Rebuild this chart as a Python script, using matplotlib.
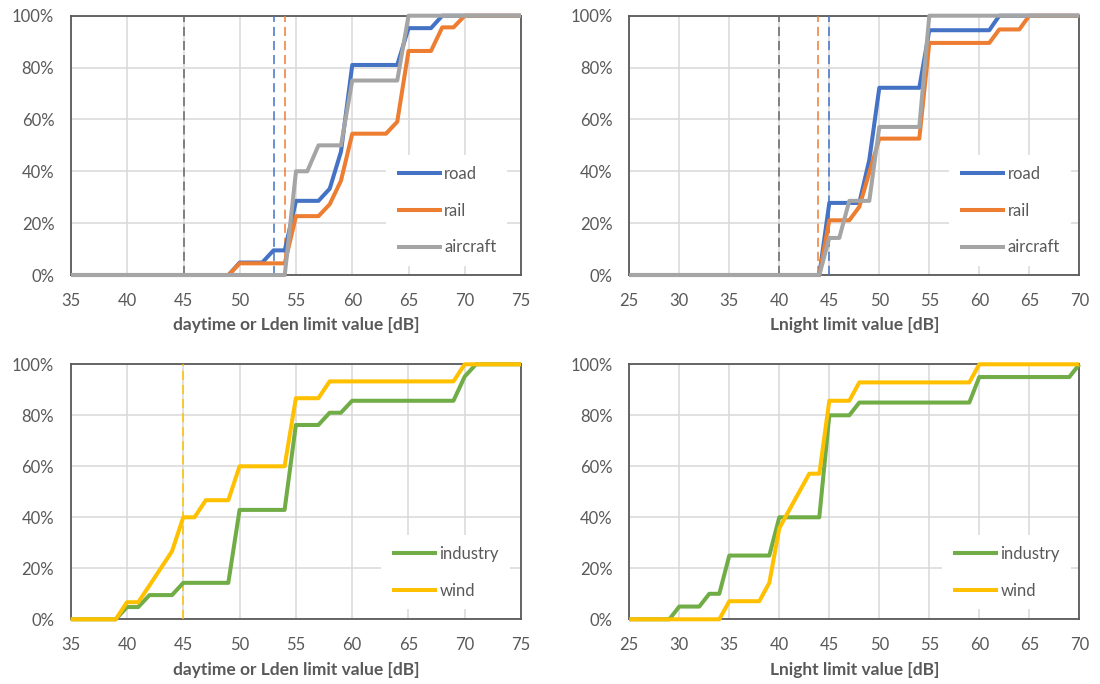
import matplotlib
matplotlib.use('Agg')
import matplotlib.pyplot as plt
from matplotlib.ticker import FuncFormatter, MultipleLocator

plt.rcParams['font.family'] = ['Lato', 'DejaVu Sans']

# ---------------- data ----------------
lden_x = list(range(35, 76))      # 35 .. 75 dB
lnight_x = list(range(25, 71))    # 25 .. 70 dB

road_lden = [0, 0, 0, 0, 0, 0, 0, 0, 0, 0,
             0, 0, 0, 0, 0, 4.8, 4.8, 4.8, 9.5, 9.5,
             28.6, 28.6, 28.6, 33.3, 47.6, 81.0, 81.0, 81.0, 81.0, 81.0,
             95.2, 95.2, 95.2, 100, 100, 100, 100, 100, 100, 100,
             100]
rail_lden = [0, 0, 0, 0, 0, 0, 0, 0, 0, 0,
             0, 0, 0, 0, 0, 4.5, 4.5, 4.5, 4.5, 4.5,
             22.7, 22.7, 22.7, 27.3, 36.4, 54.5, 54.5, 54.5, 54.5, 59.1,
             86.4, 86.4, 86.4, 95.5, 95.5, 100, 100, 100, 100, 100,
             100]
aircraft_lden = [0, 0, 0, 0, 0, 0, 0, 0, 0, 0,
                 0, 0, 0, 0, 0, 0, 0, 0, 0, 0,
                 40, 40, 50, 50, 50, 75, 75, 75, 75, 75,
                 100, 100, 100, 100, 100, 100, 100, 100, 100, 100,
                 100]
industry_lden = [0, 0, 0, 0, 0, 4.8, 4.8, 9.5, 9.5, 9.5,
                 14.3, 14.3, 14.3, 14.3, 14.3, 42.9, 42.9, 42.9, 42.9, 42.9,
                 76.2, 76.2, 76.2, 81.0, 81.0, 85.7, 85.7, 85.7, 85.7, 85.7,
                 85.7, 85.7, 85.7, 85.7, 85.7, 95.2, 100, 100, 100, 100,
                 100]
wind_lden = [0, 0, 0, 0, 0, 6.7, 6.7, 13.3, 20.0, 26.7,
             40.0, 40.0, 46.7, 46.7, 46.7, 60.0, 60.0, 60.0, 60.0, 60.0,
             86.7, 86.7, 86.7, 93.3, 93.3, 93.3, 93.3, 93.3, 93.3, 93.3,
             93.3, 93.3, 93.3, 93.3, 93.3, 100, 100, 100, 100, 100,
             100]

road_lnight = [0, 0, 0, 0, 0, 0, 0, 0, 0, 0,
               0, 0, 0, 0, 0, 0, 0, 0, 0, 0,
               27.8, 27.8, 27.8, 27.8, 44.4, 72.2, 72.2, 72.2, 72.2, 72.2,
               94.4, 94.4, 94.4, 94.4, 94.4, 94.4, 94.4, 100, 100, 100,
               100, 100, 100, 100, 100, 100]
rail_lnight = [0, 0, 0, 0, 0, 0, 0, 0, 0, 0,
               0, 0, 0, 0, 0, 0, 0, 0, 0, 0,
               21.1, 21.1, 21.1, 26.3, 39.5, 52.6, 52.6, 52.6, 52.6, 52.6,
               89.5, 89.5, 89.5, 89.5, 89.5, 89.5, 89.5, 94.7, 94.7, 94.7,
               100, 100, 100, 100, 100, 100]
aircraft_lnight = [0, 0, 0, 0, 0, 0, 0, 0, 0, 0,
                   0, 0, 0, 0, 0, 0, 0, 0, 0, 0,
                   14.3, 14.3, 28.6, 28.6, 28.6, 57.1, 57.1, 57.1, 57.1, 57.1,
                   100, 100, 100, 100, 100, 100, 100, 100, 100, 100,
                   100, 100, 100, 100, 100, 100]
industry_lnight = [0, 0, 0, 0, 0, 5, 5, 5, 10, 10,
                   25, 25, 25, 25, 25, 40, 40, 40, 40, 40,
                   80, 80, 80, 85, 85, 85, 85, 85, 85, 85,
                   85, 85, 85, 85, 85, 95, 95, 95, 95, 95,
                   95, 95, 95, 95, 95, 100]
wind_lnight = [0, 0, 0, 0, 0, 0, 0, 0, 0, 0,
               7.1, 7.1, 7.1, 7.1, 14.3, 35.7, 42.9, 50.0, 57.1, 57.1,
               85.7, 85.7, 85.7, 92.9, 92.9, 92.9, 92.9, 92.9, 92.9, 92.9,
               92.9, 92.9, 92.9, 92.9, 92.9, 100, 100, 100, 100, 100,
               100, 100, 100, 100, 100, 100]

# reference limit values (dashed vertical lines)
lden_limits = {'general': 45, 'road': 53, 'rail': 54}
lnight_limits = {'general': 40, 'rail': 43.9, 'road': 45}
wind_lden_limit = 45

lden_label = 'daytime or Lden limit value [dB]'
lnight_label = 'Lnight limit value [dB]'

# ---------------- style ----------------
C_ROAD = '#4472C4'
C_RAIL = '#ED7D31'
C_AIR = '#A5A5A5'
C_IND = '#70AD47'
C_WIND = '#FFC000'
C_LIM = '#666666'
TXT = '#595959'
GRID = '#D9D9D9'

W, H = 1100, 684
fig = plt.figure(figsize=(W / 100, H / 100), dpi=100)
fig.patch.set_facecolor('white')


def make_ax(left, top, right, bottom):
    return fig.add_axes([left / W, 1 - bottom / H, (right - left) / W, (bottom - top) / H])


ax_tl = make_ax(71, 15.7, 521, 275)
ax_tr = make_ax(629.3, 15.7, 1079.3, 275)
ax_bl = make_ax(70.7, 364.3, 521, 619.3)
ax_br = make_ax(629.3, 364.3, 1079.3, 619.3)


def style(ax, xlim, xlabel):
    ax.set_xlim(*xlim)
    ax.set_ylim(0, 100)
    ax.xaxis.set_major_locator(MultipleLocator(5))
    ax.yaxis.set_major_locator(MultipleLocator(20))
    ax.yaxis.set_major_formatter(FuncFormatter(lambda v, p: f'{v:.0f}%'))
    ax.grid(True, color=GRID, lw=1.1)
    ax.set_axisbelow(True)
    ax.tick_params(axis='both', length=0, labelsize=12, labelcolor=TXT)
    ax.tick_params(axis='x', pad=13)
    ax.tick_params(axis='y', pad=12)
    for s in ax.spines.values():
        s.set_color(TXT)
        s.set_linewidth(1.3)
    ax.set_xlabel(xlabel, fontsize=12.5, fontweight='bold', color=TXT, labelpad=6)


def series(ax, x, y, color, label):
    ax.plot(x, y, color=color, lw=2.9, label=label, zorder=3, clip_on=False,
            solid_joinstyle='round', solid_capstyle='butt')


def vline(ax, x, color):
    ax.axvline(x, color=color, lw=1.1, dashes=(6, 3.2), zorder=2.6)


def legend(ax, anchor):
    leg = ax.legend(loc='upper left', bbox_to_anchor=anchor, borderaxespad=0,
                    frameon=True, fancybox=False, framealpha=1, facecolor='white',
                    edgecolor='none', fontsize=12, handlelength=2.7,
                    handletextpad=0.15, labelspacing=1.25, borderpad=0.65)
    for t in leg.get_texts():
        t.set_color(TXT)
    leg.set_zorder(5)


# top-left: Lden transport
style(ax_tl, (35, 75), lden_label)
vline(ax_tl, lden_limits['general'], C_LIM)
vline(ax_tl, lden_limits['road'], C_ROAD)
vline(ax_tl, lden_limits['rail'], C_RAIL)
series(ax_tl, lden_x, road_lden, C_ROAD, 'road')
series(ax_tl, lden_x, rail_lden, C_RAIL, 'rail')
series(ax_tl, lden_x, aircraft_lden, C_AIR, 'aircraft')
legend(ax_tl, (0.700, 0.463))

# top-right: Lnight transport
style(ax_tr, (25, 70), lnight_label)
vline(ax_tr, lnight_limits['general'], C_LIM)
vline(ax_tr, lnight_limits['rail'], C_RAIL)
vline(ax_tr, lnight_limits['road'], C_ROAD)
series(ax_tr, lnight_x, road_lnight, C_ROAD, 'road')
series(ax_tr, lnight_x, rail_lnight, C_RAIL, 'rail')
series(ax_tr, lnight_x, aircraft_lnight, C_AIR, 'aircraft')
legend(ax_tr, (0.711, 0.463))

# bottom-left: Lden industry / wind
style(ax_bl, (35, 75), lden_label)
vline(ax_bl, wind_lden_limit, C_WIND)
series(ax_bl, lden_x, industry_lden, C_IND, 'industry')
series(ax_bl, lden_x, wind_lden, C_WIND, 'wind')
legend(ax_bl, (0.689, 0.331))

# bottom-right: Lnight industry / wind
style(ax_br, (25, 70), lnight_label)
series(ax_br, lnight_x, industry_lnight, C_IND, 'industry')
series(ax_br, lnight_x, wind_lnight, C_WIND, 'wind')
legend(ax_br, (0.695, 0.331))

fig.savefig('out.png', dpi=100, facecolor='white')
